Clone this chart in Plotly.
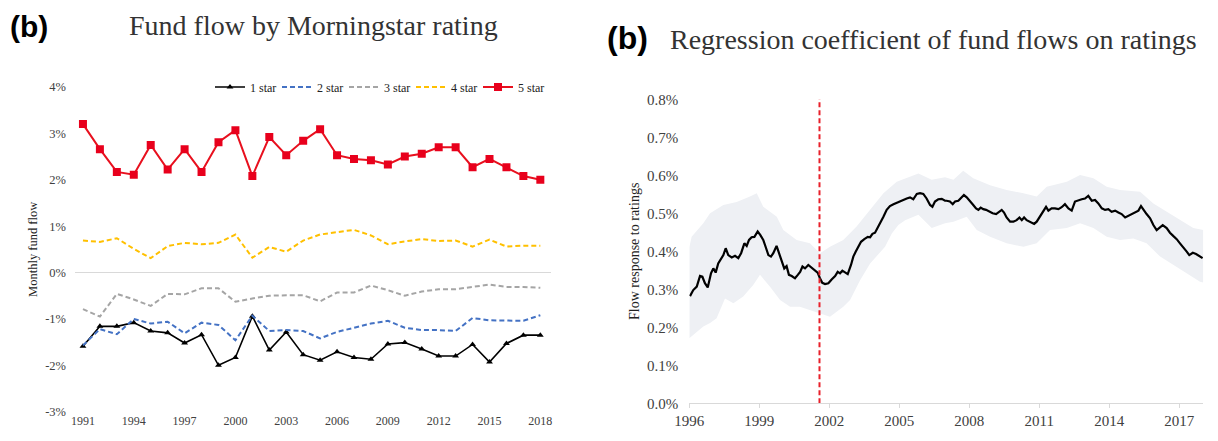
import plotly.graph_objects as go

# ---------------- Left panel data (monthly fund flow, %) ----------------
years = list(range(1991, 2019))
star1 = [-1.59, -1.16, -1.16, -1.08, -1.26, -1.30, -1.52, -1.34, -2.00, -1.83,
         -0.94, -1.67, -1.28, -1.77, -1.89, -1.71, -1.83, -1.87, -1.54, -1.51,
         -1.65, -1.80, -1.80, -1.55, -1.93, -1.53, -1.35, -1.35]
star2 = [-1.57, -1.22, -1.33, -1.00, -1.10, -1.06, -1.31, -1.08, -1.13, -1.46,
         -0.93, -1.26, -1.24, -1.26, -1.42, -1.28, -1.19, -1.10, -1.04, -1.19,
         -1.24, -1.24, -1.26, -0.98, -1.03, -1.03, -1.04, -0.92]
star3 = [-0.79, -0.95, -0.46, -0.58, -0.72, -0.46, -0.47, -0.34, -0.34, -0.63,
         -0.56, -0.50, -0.49, -0.49, -0.62, -0.43, -0.43, -0.28, -0.38, -0.50,
         -0.41, -0.36, -0.36, -0.31, -0.26, -0.31, -0.31, -0.33]
star4 = [0.69, 0.66, 0.74, 0.51, 0.31, 0.57, 0.64, 0.61, 0.64, 0.82,
         0.32, 0.55, 0.45, 0.69, 0.82, 0.87, 0.92, 0.80, 0.61, 0.67,
         0.72, 0.68, 0.69, 0.56, 0.71, 0.56, 0.58, 0.58]
star5 = [3.20, 2.66, 2.17, 2.11, 2.75, 2.22, 2.66, 2.17, 2.81, 3.07,
         2.08, 2.92, 2.53, 2.84, 3.09, 2.53, 2.45, 2.42, 2.33, 2.50,
         2.56, 2.70, 2.70, 2.27, 2.45, 2.27, 2.08, 2.00]
left_ytick_vals = [-3, -2, -1, 0, 1, 2, 3, 4]
left_ytick_text = ["-3%", "-2%", "-1%", "0%", "1%", "2%", "3%", "4%"]
left_xtick_vals = [1991, 1994, 1997, 2000, 2003, 2006, 2009, 2012, 2015, 2018]

# ---------------- Right panel data (regression coefficient, %) ----------------
coef_t = [1996.03, 1996.17, 1996.32, 1996.46, 1996.56, 1996.67, 1996.79, 1996.93,
          1997.03, 1997.13, 1997.24, 1997.36, 1997.46, 1997.56, 1997.67, 1997.82,
          1997.96, 1998.10, 1998.22, 1998.36, 1998.46, 1998.56, 1998.67, 1998.79,
          1998.93, 1999.04, 1999.17, 1999.27, 1999.39, 1999.50, 1999.60, 1999.74,
          1999.84, 1999.96, 2000.07, 2000.17, 2000.27, 2000.39, 2000.53, 2000.65,
          2000.75, 2000.85, 2000.96, 2001.10, 2001.22, 2001.36, 2001.50, 2001.60,
          2001.70, 2001.82, 2001.96, 2002.10, 2002.25, 2002.36, 2002.46, 2002.56,
          2002.67, 2002.79, 2002.93, 2003.03, 2003.13, 2003.25, 2003.36, 2003.50,
          2003.65, 2003.75, 2003.85, 2003.96, 2004.07, 2004.22, 2004.32, 2004.46,
          2004.60, 2004.75, 2004.89, 2005.03, 2005.17, 2005.32, 2005.46, 2005.60,
          2005.75, 2005.89, 2006.03, 2006.17, 2006.32, 2006.42, 2006.53, 2006.67,
          2006.82, 2006.96,
          2007.03, 2007.17, 2007.29, 2007.39, 2007.53, 2007.63, 2007.77, 2007.89,
          2008.03, 2008.17, 2008.29, 2008.39, 2008.49, 2008.60, 2008.72, 2008.86,
          2009.00, 2009.15, 2009.29, 2009.39, 2009.49, 2009.60, 2009.75, 2009.89,
          2010.03, 2010.15, 2010.25, 2010.35, 2010.46, 2010.60, 2010.78, 2010.89,
          2011.00, 2011.15, 2011.29, 2011.39, 2011.53, 2011.67, 2011.82, 2011.96,
          2012.10, 2012.25, 2012.39, 2012.53, 2012.68, 2012.82, 2012.96, 2013.10,
          2013.25, 2013.39, 2013.53, 2013.68, 2013.82, 2013.96, 2014.10, 2014.25,
          2014.39, 2014.53, 2014.68, 2014.82, 2014.96, 2015.10, 2015.25, 2015.36,
          2015.46, 2015.60, 2015.75, 2015.89, 2016.03, 2016.18, 2016.29, 2016.46,
          2016.60, 2016.75, 2016.89, 2017.03, 2017.18, 2017.32, 2017.43, 2017.58,
          2017.72, 2017.86, 2018.00]
coef_v = [0.282, 0.298, 0.307, 0.335, 0.333, 0.316, 0.305, 0.342,
          0.355, 0.344, 0.368, 0.382, 0.390, 0.408, 0.390, 0.384,
          0.388, 0.382, 0.395, 0.421, 0.414, 0.430, 0.437, 0.438,
          0.452, 0.443, 0.430, 0.412, 0.390, 0.386, 0.395, 0.414,
          0.395, 0.373, 0.355, 0.361, 0.338, 0.335, 0.329, 0.338,
          0.346, 0.360, 0.355, 0.364, 0.358, 0.349, 0.344, 0.329,
          0.317, 0.314, 0.316, 0.326, 0.335, 0.346, 0.342, 0.349,
          0.344, 0.340, 0.364, 0.386, 0.399, 0.412, 0.425, 0.432,
          0.438, 0.437, 0.446, 0.449, 0.461, 0.478, 0.491, 0.509,
          0.519, 0.524, 0.528, 0.531, 0.535, 0.539, 0.542, 0.537,
          0.551, 0.553, 0.551, 0.539, 0.522, 0.517, 0.531, 0.537,
          0.538, 0.533,
          0.533, 0.531, 0.524, 0.531, 0.533, 0.539, 0.548, 0.542,
          0.533, 0.522, 0.513, 0.509, 0.515, 0.511, 0.509, 0.504,
          0.500, 0.498, 0.504, 0.509, 0.502, 0.489, 0.478, 0.478,
          0.482, 0.489, 0.482, 0.489, 0.482, 0.478, 0.472, 0.478,
          0.489, 0.502, 0.517, 0.507, 0.513, 0.513, 0.511, 0.516,
          0.524, 0.513, 0.507, 0.531, 0.535, 0.537, 0.539, 0.546,
          0.533, 0.535, 0.526, 0.513, 0.509, 0.511, 0.504, 0.507,
          0.502, 0.498, 0.489, 0.493, 0.498, 0.502, 0.507, 0.519,
          0.509, 0.498, 0.487, 0.469, 0.456, 0.463, 0.469, 0.461,
          0.449, 0.440, 0.432, 0.421, 0.411, 0.399, 0.390, 0.396,
          0.393, 0.388, 0.382]

upper_t = [1996.00, 1996.10, 1996.60, 1996.89, 1997.46, 1998.03, 1998.60, 1998.89,
           1999.17, 1999.75, 2000.03, 2000.60, 2001.17, 2001.60, 2002.03, 2002.60,
           2003.17, 2003.75, 2004.32, 2004.89, 2005.46, 2005.82, 2006.39, 2006.96,
           2007.32, 2007.74, 2008.17, 2008.89, 2009.60, 2010.32, 2010.89, 2011.32,
           2012.18, 2012.75, 2013.32, 2013.89, 2014.46, 2015.32, 2015.89, 2016.46,
           2017.03, 2017.60, 2018.03]
upper_v = [0.410, 0.438, 0.474, 0.500, 0.522, 0.530, 0.544, 0.553,
           0.517, 0.491, 0.456, 0.430, 0.421, 0.395, 0.412, 0.430,
           0.465, 0.509, 0.553, 0.583, 0.596, 0.605, 0.588, 0.595,
           0.588, 0.612, 0.592, 0.574, 0.561, 0.553, 0.544, 0.570,
           0.583, 0.601, 0.592, 0.570, 0.561, 0.557, 0.526, 0.504,
           0.482, 0.461, 0.456]
lower_t = [1996.00, 1996.32, 1996.60, 1996.89, 1997.17, 1997.53, 1997.89, 1998.31,
           1998.74, 1999.03, 1999.46, 1999.89, 2000.32, 2000.74, 2001.17, 2001.60,
           2002.03, 2002.60, 2002.89, 2003.32, 2003.75, 2004.39, 2004.68, 2004.96,
           2005.25, 2005.82, 2006.39, 2006.96, 2007.32, 2007.89, 2008.32, 2008.89,
           2009.60, 2010.32, 2010.89, 2011.46, 2012.18, 2012.75, 2013.32, 2013.89,
           2014.46, 2015.03, 2015.60, 2016.18, 2016.75, 2017.32, 2017.89, 2018.03]
lower_v = [0.171, 0.188, 0.202, 0.211, 0.224, 0.276, 0.263, 0.281,
           0.311, 0.338, 0.307, 0.272, 0.254, 0.254, 0.246, 0.237,
           0.228, 0.254, 0.272, 0.324, 0.368, 0.412, 0.447, 0.469,
           0.482, 0.496, 0.461, 0.474, 0.478, 0.491, 0.456, 0.438,
           0.421, 0.412, 0.421, 0.456, 0.461, 0.474, 0.461, 0.438,
           0.430, 0.434, 0.421, 0.386, 0.364, 0.342, 0.320, 0.318]
break_year = 2001.58
right_ytick_vals = [0.0, 0.1, 0.2, 0.3, 0.4, 0.5, 0.6, 0.7, 0.8]
right_ytick_text = ["0.0%", "0.1%", "0.2%", "0.3%", "0.4%", "0.5%", "0.6%", "0.7%", "0.8%"]
right_xtick_vals = [1996, 1999, 2002, 2005, 2008, 2011, 2014, 2017]

# ---------------- Figure ----------------
OFF = 8  # page body margin
W, H = 1218 - OFF, 441 - OFF
SERIF = "Liberation Serif, Times New Roman, serif"
SANS = "Liberation Sans, Arial, sans-serif"
TICKC = "#404040"

def px_x(p):
    return (p - OFF) / W

def px_y(p):
    return 1 - (p - OFF) / H

fig = go.Figure()

dash = "5px,3px"
fig.add_trace(go.Scatter(x=years, y=star1, name="1 star", mode="lines+markers",
                         line=dict(color="black", width=1.6),
                         marker=dict(symbol="triangle-up", size=6, color="black"),
                         xaxis="x", yaxis="y"))
fig.add_trace(go.Scatter(x=years, y=star2, name="2 star", mode="lines",
                         line=dict(color="#4472C4", width=2, dash=dash),
                         xaxis="x", yaxis="y"))
fig.add_trace(go.Scatter(x=years, y=star3, name="3 star", mode="lines",
                         line=dict(color="#A5A5A5", width=2, dash=dash),
                         xaxis="x", yaxis="y"))
fig.add_trace(go.Scatter(x=years, y=star4, name="4 star", mode="lines",
                         line=dict(color="#FFC000", width=2, dash=dash),
                         xaxis="x", yaxis="y"))
fig.add_trace(go.Scatter(x=years, y=star5, name="5 star", mode="lines+markers",
                         line=dict(color="#E8101E", width=2),
                         marker=dict(symbol="square", size=8, color="#E8001C"),
                         xaxis="x", yaxis="y"))

# confidence band (polygon built from upper + reversed lower)
band_x = upper_t + lower_t[::-1]
band_y = upper_v + lower_v[::-1]
fig.add_trace(go.Scatter(x=band_x, y=band_y, fill="toself", mode="lines",
                         line=dict(width=0), fillcolor="#eef0f4",
                         showlegend=False, hoverinfo="skip",
                         xaxis="x2", yaxis="y2"))
fig.add_trace(go.Scatter(x=coef_t, y=coef_v, mode="lines",
                         line=dict(color="black", width=2.2),
                         showlegend=False, xaxis="x2", yaxis="y2"))
fig.add_trace(go.Scatter(x=[break_year, break_year], y=[0, 0.806], mode="lines",
                         line=dict(color="#E8202A", width=2, dash="5px,3px"),
                         showlegend=False, xaxis="x2", yaxis="y2"))

fig.update_layout(
    width=W, height=H,
    margin=dict(l=0, r=0, t=0, b=0, autoexpand=False),
    paper_bgcolor="white", plot_bgcolor="white",
    font=dict(family=SERIF, size=12, color=TICKC),
    xaxis=dict(domain=[px_x(75), px_x(551)], range=[1990.53, 2018.63],
               tickvals=left_xtick_vals, showgrid=False, zeroline=False,
               showline=False, ticks="", tickfont=dict(family=SERIF, size=12, color=TICKC),
               automargin=False, anchor="y"),
    yaxis=dict(domain=[px_y(411.7), px_y(87)], range=[-3, 4],
               tickvals=left_ytick_vals, ticktext=left_ytick_text,
               showgrid=False, zeroline=True, zerolinecolor="#d9d9d9", zerolinewidth=1,
               showline=False, ticks="", tickfont=dict(family=SERIF, size=12.5, color=TICKC),
               ticklabelstandoff=8, automargin=False,
               title=dict(text="Monthly fund flow", font=dict(family=SERIF, size=12.5, color="#222"),
                          standoff=4),
               anchor="x"),
    xaxis2=dict(domain=[px_x(689.3), px_x(1203.3)], range=[1996, 2018.03],
                tickvals=right_xtick_vals, showgrid=False, zeroline=False,
                showline=True, linecolor="#d9d9d9", linewidth=1,
                ticks="outside", ticklen=4, tickcolor="#d9d9d9",
                tickfont=dict(family=SERIF, size=15, color=TICKC),
                automargin=False, anchor="y2"),
    yaxis2=dict(domain=[px_y(403.3), px_y(99.3)], range=[0, 0.8],
                tickvals=right_ytick_vals, ticktext=right_ytick_text,
                showgrid=False, zeroline=False, showline=False, ticks="",
                tickfont=dict(family=SERIF, size=15, color=TICKC),
                ticklabelstandoff=10, automargin=False,
                title=dict(text="Flow response to ratings", font=dict(family=SERIF, size=14, color="#222"),
                           standoff=4),
                anchor="x2"),
    legend=dict(orientation="h", x=px_x(210), y=px_y(87), xanchor="left", yanchor="middle",
                font=dict(family=SERIF, size=12, color="#222"),
                entrywidth=22, entrywidthmode="pixels", itemwidth=30,
                bgcolor="rgba(0,0,0,0)", tracegroupgap=0),
    showlegend=True,
)

annos = [
    dict(text="<b>(b)</b>", x=px_x(8), y=px_y(8), xanchor="left", yanchor="top",
         font=dict(family=SANS, size=30, color="black")),
    dict(text="Fund flow by Morningstar rating", x=px_x(313), y=px_y(25), xanchor="center",
         yanchor="middle", font=dict(family=SERIF, size=28, color="#333")),
    dict(text="<b>(b)</b>", x=px_x(605), y=px_y(38), xanchor="left", yanchor="middle",
         font=dict(family=SANS, size=32, color="black")),
    dict(text="Regression coefficient of fund flows on ratings", x=px_x(933), y=px_y(40),
         xanchor="center", yanchor="middle", font=dict(family=SERIF, size=28, color="#333")),
]
for a in annos:
    fig.add_annotation(xref="paper", yref="paper", showarrow=False, **a)

fig.write_html("out.html")
